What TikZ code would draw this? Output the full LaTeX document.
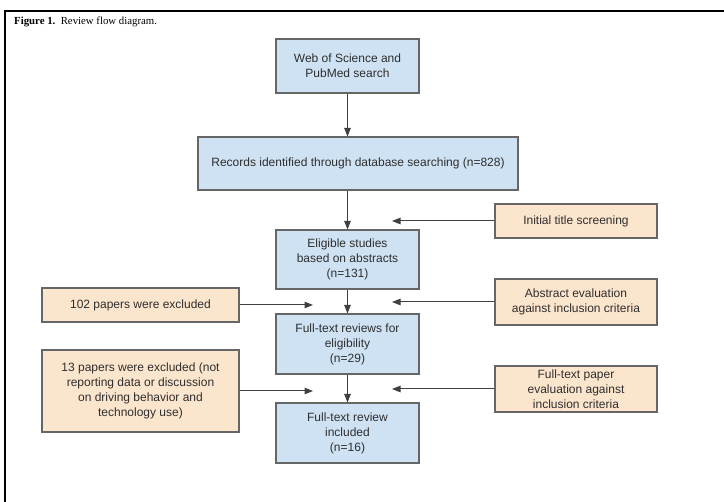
\documentclass[tikz,border=0pt]{standalone}
\usepackage{fontspec}
\setmainfont{Liberation Sans}
\newfontfamily\capfont{Liberation Serif}
\usetikzlibrary{arrows.meta}
\definecolor{bluebox}{HTML}{CFE2F3}
\definecolor{orangebox}{HTML}{FCE5CD}
\definecolor{edgecol}{HTML}{666666}
\definecolor{txtcol}{HTML}{2E2E2E}
\definecolor{arrcol}{HTML}{404040}
\tikzset{
  base/.style={draw=edgecol, line width=1.1pt, text=txtcol, align=center, inner sep=2pt,
    font=\fontsize{12}{15}\selectfont},
  bluebox/.style={base, fill=bluebox},
  orbox/.style={base, fill=orangebox},
  arr/.style={draw=arrcol, line width=1pt, -{Triangle[length=8.5pt,width=6.5pt]}}
}
\begin{document}
\begin{tikzpicture}[x=1pt,y=-1pt]
\useasboundingbox (0,0) rectangle (724,502);
\fill[white] (0,0) rectangle (724,502);
\draw[line width=2pt, black] (5,502) -- (5,11) -- (724,11);
\node[anchor=west, font=\capfont\fontsize{10.8}{12}\selectfont, inner sep=0pt] (cap) at (14,22) {\textbf{Figure 1.}\ \ Review flow diagram.};

\node[bluebox, minimum width=143pt, minimum height=54pt] (b1) at (347.5,66) {Web of Science and\\PubMed search};
\node[bluebox, minimum width=320pt, minimum height=53pt] (b2) at (358,163.5) {Records identified through database searching (n=828)};
\node[bluebox, minimum width=143pt, minimum height=59pt] (b3) at (347.5,259.5) {Eligible studies\\based on abstracts\\(n=131)};
\node[bluebox, minimum width=143pt, minimum height=60pt] (b4) at (347.5,344) {Full-text reviews for\\eligibility\\(n=29)};
\node[bluebox, minimum width=143pt, minimum height=60pt] (b5) at (347.5,433) {Full-text review\\included\\(n=16)};

\node[orbox, minimum width=162pt, minimum height=34pt] (init) at (576,221) {Initial title screening};
\node[orbox, minimum width=162pt, minimum height=46pt] (abs) at (576,302) {Abstract evaluation\\against inclusion criteria};
\node[orbox, minimum width=162pt, minimum height=46pt] (ftp) at (576,389) {Full-text paper\\evaluation against\\inclusion criteria};
\node[orbox, minimum width=197pt, minimum height=34pt] (p102) at (140.5,305) {102 papers were excluded};
\node[orbox, minimum width=197pt, minimum height=82pt] (p13) at (140.5,391) {13 papers were excluded (not\\reporting data or discussion\\on driving behavior and\\technology use)};

\coordinate (t1) at (392,221);
\coordinate (t2) at (392,302);
\coordinate (t3) at (392,389);
\coordinate (t4) at (313,305);
\coordinate (t5) at (313,391);

\draw[arr] (b1.south) -- (b1.south |- b2.north);
\draw[arr] (b1.south |- b2.south) -- (b3.north);
\draw[arr] (b3.south) -- (b4.north);
\draw[arr] (b4.south) -- (b5.north);

\draw[arr] (init.west) -- (t1);
\draw[arr] (abs.west) -- (t2);
\draw[arr] (ftp.west) -- (t3);
\draw[arr] (p102.east) -- (t4);
\draw[arr] (p13.east) -- (t5);
\end{tikzpicture}
\end{document}
